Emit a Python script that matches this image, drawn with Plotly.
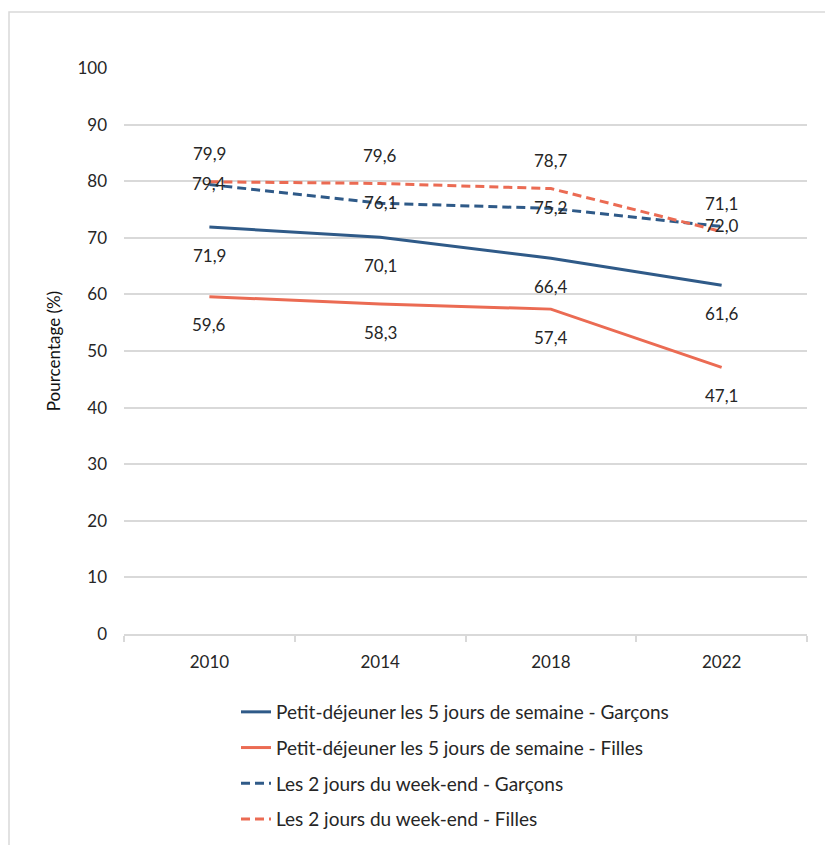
import plotly.graph_objects as go

# Survey years (x categories)
years = ["2010", "2014", "2018", "2022"]

# Share of pupils having breakfast (%)
semaine_garcons = [71.9, 70.1, 66.4, 61.6]
semaine_filles = [59.6, 58.3, 57.4, 47.1]
weekend_garcons = [79.4, 76.1, 75.2, 72.0]
weekend_filles = [79.9, 79.6, 78.7, 71.1]

series_names = [
    "Petit-déjeuner les 5 jours de semaine - Garçons",
    "Petit-déjeuner les 5 jours de semaine - Filles",
    "Les 2 jours du week-end - Garçons",
    "Les 2 jours du week-end - Filles",
]

BLUE = "#2f5a88"
ORANGE = "#eb6b53"
FONT = "Lato"
TXT = "#262626"

W, H = 825, 845
L, R, T, B = 124, 18, 68, 211

fig = go.Figure()

series = [
    (semaine_garcons, BLUE, "solid", -28),
    (semaine_filles, ORANGE, "solid", -28),
    (weekend_garcons, BLUE, "9px,5px", 1),
    (weekend_filles, ORANGE, "9px,5px", 28),
]

for i, (vals, color, dash, shift) in enumerate(series):
    fig.add_trace(go.Scatter(
        x=years, y=vals, mode="lines", name=series_names[i],
        legendgroup=f"g{i}",
        line=dict(color=color, width=3, dash=dash),
        hoverinfo="skip",
    ))
    # value labels with French decimal comma (x given as category index)
    for k, v in enumerate(vals):
        fig.add_annotation(
            x=k, y=v, xref="x", yref="y",
            text=f"{v:.1f}".replace(".", ","),
            showarrow=False, yshift=shift,
            font=dict(family=FONT, size=17, color=TXT),
        )

# outer frame around the chart area
pw, ph = W - L - R, H - T - B
fig.add_shape(
    type="rect", xref="paper", yref="paper",
    x0=(9 - L) / pw, x1=(832 - L) / pw,
    y0=(H - B - 852) / ph, y1=(H - B - 12) / ph,
    line=dict(color="#d9d9d9", width=1.5), fillcolor="rgba(0,0,0,0)",
    layer="below",
)

fig.update_layout(
    width=W, height=H,
    margin=dict(l=L, r=R, t=T, b=B, autoexpand=False),
    paper_bgcolor="white", plot_bgcolor="white",
    font=dict(family=FONT, size=17, color=TXT),
    showlegend=True,
    legend=dict(
        orientation="v", x=(236 - L) / pw, xanchor="left",
        y=(H - B - 693) / ph, yanchor="top",
        font=dict(family=FONT, size=19, color=TXT),
        tracegroupgap=8, bgcolor="rgba(0,0,0,0)",
    ),
    xaxis=dict(
        type="category", range=[-0.5, 3.5],
        showgrid=False, showline=True, linecolor="#d9d9d9", linewidth=1.5,
        ticks="outside", tickson="boundaries", ticklen=6,
        tickcolor="#d9d9d9", tickwidth=1.5, ticklabelstandoff=12,
        tickfont=dict(family=FONT, size=17, color=TXT),
        fixedrange=True,
    ),
    yaxis=dict(
        range=[0, 100], dtick=10, tick0=0,
        showgrid=True, gridcolor="#d9d9d9", gridwidth=1.5,
        zeroline=False, showline=False,
        ticks="", ticklabelstandoff=16,
        tickfont=dict(family=FONT, size=17, color=TXT),
        title=dict(text="Pourcentage (%)", standoff=12,
                   font=dict(family=FONT, size=17, color="#111111")),
        fixedrange=True,
    ),
)

fig.write_html("out.html")
